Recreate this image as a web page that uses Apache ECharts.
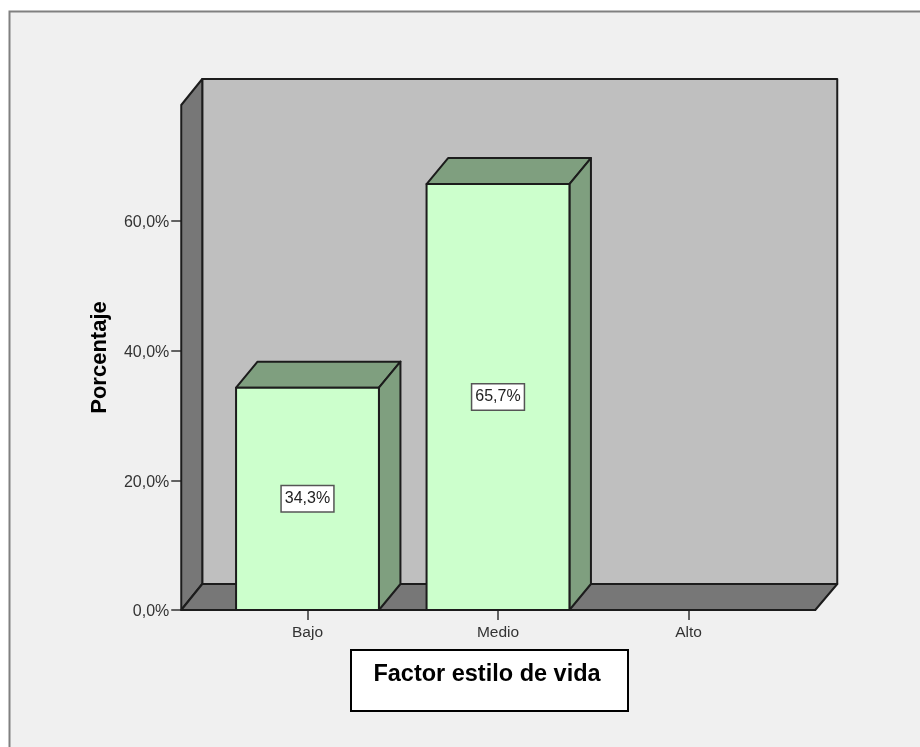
<!DOCTYPE html>
<html>
<head>
<meta charset="utf-8">
<style>html,body{margin:0;padding:0;background:#fff}#chart{width:920px;height:747px}</style>
<script src="https://cdn.jsdelivr.net/npm/echarts@6/dist/echarts.min.js"></script>
</head>
<body>
<div id="chart"></div>
<script>
// Lifestyle factor distribution, percentage per level
const categories = ['Bajo', 'Medio', 'Alto'];
const percentages = [34.3, 65.7, null];
const yTicks = [0, 20, 40, 60];
const yTitle = 'Porcentaje';
const xTitle = 'Factor estilo de vida';

const FONT = 'Arial, "Liberation Sans", sans-serif';
const DEPTH_X = 21.5, DEPTH_Y = 26;   // oblique offset of the 3D box
const WALL_INSET = 31;                // distance from first band to the left wall
const INK = '#1c1c1c';
const pct = v => v.toFixed(1).replace('.', ',') + '%';

function poly(points, fill) {
  return { type: 'polygon', shape: { points },
    style: { fill, stroke: INK, lineWidth: 2, lineJoin: 'round' } };
}

// Back panel, left wall and floor of the chart box
function renderWalls(params) {
  const c = params.coordSys;
  const l = c.x - WALL_INSET, r = c.x + c.width + WALL_INSET + 0.5;
  const t = c.y, b = c.y + c.height;
  const dx = DEPTH_X - 0.5;
  return { type: 'group', children: [
    poly([[l + dx, t - DEPTH_Y], [r + dx + 1, t - DEPTH_Y], [r + dx + 1, b - DEPTH_Y], [l + dx, b - DEPTH_Y]], '#bfbfbf'),
    poly([[l, t], [l + dx, t - DEPTH_Y], [l + dx, b - DEPTH_Y], [l, b]], '#777777'),
    poly([[l, b], [l + dx, b - DEPTH_Y], [r + dx + 1, b - DEPTH_Y], [r, b]], '#777777')
  ] };
}

// Oblique bar with its value tag in the middle of the front face
function renderBar(params, api) {
  const idx = api.value(0), val = api.value(1);
  if (val == null || isNaN(val)) return null;
  const w = api.size([1, 0])[0] * 0.75;
  const top = api.coord([idx, val]);
  const base = api.coord([idx, 0]);
  const mid = api.coord([idx, val / 2]);
  const x0 = top[0] - w / 2, x1 = top[0] + w / 2;
  return { type: 'group', children: [
    poly([[x0, top[1]], [x0 + DEPTH_X, top[1] - DEPTH_Y], [x1 + DEPTH_X, top[1] - DEPTH_Y], [x1, top[1]]], '#7f9f7f'),
    poly([[x1, top[1]], [x1 + DEPTH_X, top[1] - DEPTH_Y], [x1 + DEPTH_X, base[1] - DEPTH_Y], [x1, base[1]]], '#7f9f7f'),
    poly([[x0, top[1]], [x1, top[1]], [x1, base[1]], [x0, base[1]]], '#ccffcc'),
    { type: 'text', style: {
        text: pct(val), x: mid[0], y: mid[1], align: 'center', verticalAlign: 'middle',
        font: '16px ' + FONT, fill: '#222', backgroundColor: '#fff',
        borderColor: '#555', borderWidth: 1.5, padding: [5, 3, 4, 3] } }
  ] };
}

const chart = echarts.init(document.getElementById('chart'), null, { renderer: 'canvas' });
chart.setOption({
  animation: false,
  backgroundColor: '#ffffff',
  graphic: [
    // panel frame runs off the right and bottom of the page
    { type: 'rect', z: -10, shape: { x: 9.5, y: 11.5, width: 930, height: 760 },
      style: { fill: '#f0f0f0', stroke: '#808080', lineWidth: 2 } },
    { type: 'rect', z: 10, shape: { x: 351, y: 650, width: 277, height: 61 },
      style: { fill: '#ffffff', stroke: '#000000', lineWidth: 2 } },
    { type: 'text', z: 11, style: { text: xTitle, x: 487, y: 675, align: 'center', verticalAlign: 'middle',
      font: 'bold 23.5px ' + FONT, fill: '#000' } }
  ],
  grid: { left: 212.25, top: 105, width: 571.5, height: 505 },
  xAxis: {
    type: 'category', data: categories, boundaryGap: true,
    axisLine: { show: false },
    axisTick: { show: true, alignWithLabel: true, length: 10, lineStyle: { color: '#333', width: 1.5 } },
    axisLabel: { color: '#333', fontSize: 15.5, fontFamily: FONT, margin: 15 },
    splitLine: { show: false }
  },
  yAxis: {
    type: 'value', min: 0, max: 77.9, offset: WALL_INSET,
    name: yTitle, nameLocation: 'middle', nameGap: 70, nameRotate: 90,
    nameTextStyle: { fontFamily: FONT, fontWeight: 'bold', fontSize: 22, color: '#000' },
    axisLine: { show: false },
    axisTick: { show: true, length: 10, customValues: yTicks, lineStyle: { color: '#333', width: 1.5 } },
    axisLabel: { color: '#333', fontSize: 16, fontFamily: FONT, margin: 12, verticalAlign: 'top', lineHeight: 4, customValues: yTicks, formatter: v => pct(v) },
    splitLine: { show: false }
  },
  series: [
    { type: 'custom', z: 1, clip: false, silent: true, renderItem: renderWalls, data: [[0, 0]] },
    { type: 'custom', z: 2, clip: false, renderItem: renderBar,
      encode: { x: 0, y: 1 },
      data: categories.map((c, i) => [i, percentages[i]]) }
  ]
});
</script>
</body>
</html>
